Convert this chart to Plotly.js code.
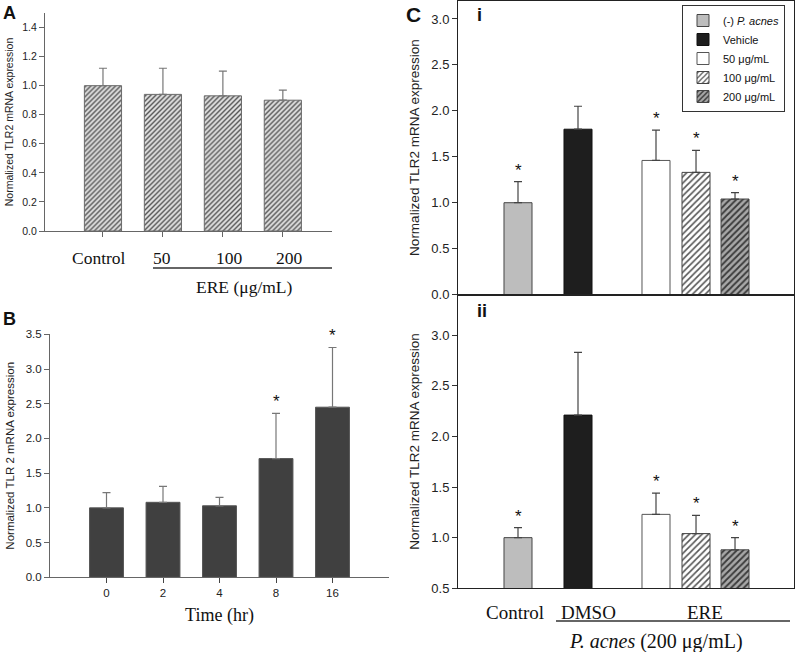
<!DOCTYPE html>
<html>
<head>
<meta charset="utf-8">
<script src="https://cdn.plot.ly/plotly-3.0.1.min.js"></script>
<style>html,body{margin:0;padding:0;background:#fff;}#chart{width:796px;height:652px;}</style>
</head>
<body>
<div id="chart"></div>
<script>
// ---------- DATA ----------
// Panel A: ERE dose (no P. acnes)
const catsA = ["Control", "50", "100", "200"];
const valsA = [1.00, 0.94, 0.93, 0.90];
const errA  = [0.12, 0.18, 0.17, 0.07];

// Panel B: time course
const catsB = ["0", "2", "4", "8", "16"];
const valsB = [1.00, 1.08, 1.03, 1.71, 2.45];
const errB  = [0.22, 0.23, 0.12, 0.65, 0.86];
const sigB  = [false, false, false, true, true];

// Panel C: series (legend names)
const seriesC = ["(-) <i>P. acnes</i>", "Vehicle", "50 μg/mL", "100 μg/mL", "200 μg/mL"];
// C-i
const valsCi = [1.00, 1.80, 1.46, 1.33, 1.04];
const errCi  = [0.23, 0.25, 0.33, 0.24, 0.07];
const sigCi  = [true, false, true, true, true];
// C-ii
const valsCii = [1.00, 2.21, 1.23, 1.04, 0.88];
const errCii  = [0.10, 0.62, 0.21, 0.18, 0.12];
const sigCii  = [true, false, true, true, true];
// C group labels
const groupLabelsC = ["Control", "DMSO", "ERE"];

// ---------- LAYOUT HELPERS ----------
const slotC = [0, 1, 2.3, 2.967, 3.617];          // slot layout of the five C bars
const groupSlotC = [slotC[0], slotC[1], (slotC[2] + slotC[3] + slotC[4]) / 3];
const labelShiftA = [-4, -1, 7, 7];               // px nudges of the serif labels
const labelShiftC = [-3, 10, 9];
const SANS = "Liberation Sans, Arial, sans-serif";
const SERIF = "Liberation Serif, Times New Roman, serif";

const styleC = [
  {color: "#bdbdbd", line: {color: "#444", width: 1}},
  {color: "#1e1e1e", line: {color: "#111", width: 1}},
  {color: "#ffffff", line: {color: "#555", width: 1}},
  {color: "#ffffff", line: {color: "#444", width: 1}, pattern: {shape: "/", fgcolor: "#555", bgcolor: "#ffffff", size: 4.5, solidity: 0.35}},
  {color: "#9a9a9a", line: {color: "#444", width: 1}, pattern: {shape: "/", fgcolor: "#3a3a3a", bgcolor: "#a8a8a8", size: 4.5, solidity: 0.4}}
];

const traces = [];

// Panel A
traces.push({
  type: "bar", x: catsA, y: valsA, xaxis: "x", yaxis: "y", width: 0.62,
  marker: {color: "#d8d8d8", line: {color: "#6a6a6a", width: 1},
           pattern: {shape: "/", fgcolor: "#555", bgcolor: "#e0e0e0", size: 3.5, solidity: 0.4}},
  error_y: {type: "data", symmetric: false, array: errA, arrayminus: errA.map(() => 0), color: "#777", thickness: 1.2, width: 4},
  showlegend: false, hoverinfo: "skip"
});

// Panel B
traces.push({
  type: "bar", x: catsB, y: valsB, xaxis: "x2", yaxis: "y2", width: 0.6,
  marker: {color: "#404040", line: {color: "#555", width: 1}},
  error_y: {type: "data", symmetric: false, array: errB, arrayminus: errB.map(() => 0), color: "#777", thickness: 1.2, width: 4},
  showlegend: false, hoverinfo: "skip"
});

// Panel C-i and C-ii
seriesC.forEach((name, i) => {
  traces.push({
    type: "bar", name: name, x: [slotC[i]], y: [valsCi[i]], xaxis: "x3", yaxis: "y3", width: 0.467,
    marker: styleC[i],
    error_y: {type: "data", symmetric: false, array: [errCi[i]], arrayminus: [0], color: "#444", thickness: 1.2, width: 4},
    showlegend: true, hoverinfo: "skip"
  });
});
seriesC.forEach((name, i) => {
  traces.push({
    type: "bar", name: name, x: [slotC[i]], y: [valsCii[i]], xaxis: "x4", yaxis: "y4", width: 0.467,
    marker: styleC[i],
    error_y: {type: "data", symmetric: false, array: [errCii[i]], arrayminus: [0], color: "#444", thickness: 1.2, width: 4},
    showlegend: false, hoverinfo: "skip"
  });
});

// ---------- ANNOTATIONS ----------
const ann = [];
function star(xref, yref, x, y) {
  ann.push({xref: xref, yref: yref, x: x, y: y, text: "*", showarrow: false, yanchor: "bottom", yshift: 0,
            font: {family: SANS, size: 17, color: "#111"}});
}
catsB.forEach((c, i) => { if (sigB[i]) star("x2", "y2", i, valsB[i] + errB[i]); });
slotC.forEach((p, i) => { if (sigCi[i]) star("x3", "y3", p, valsCi[i] + errCi[i]); });
slotC.forEach((p, i) => { if (sigCii[i]) star("x4", "y4", p, valsCii[i] + errCii[i]); });

// serif category labels
catsA.forEach((c, i) => {
  ann.push({xref: "x", yref: "paper", x: i, y: 1 - 258 / 652, text: c, showarrow: false, xshift: labelShiftA[i],
            xanchor: "center", yanchor: "middle", font: {family: SERIF, size: 17.5, color: "#111"}});
});
groupLabelsC.forEach((c, i) => {
  ann.push({xref: "x4", yref: "paper", x: groupSlotC[i], y: 1 - 612 / 652, text: c, showarrow: false, xshift: labelShiftC[i],
            xanchor: "center", yanchor: "middle", font: {family: SERIF, size: 19, color: "#111"}});
});

function paperText(text, px, py, size, opts) {
  ann.push(Object.assign({xref: "paper", yref: "paper", x: px / 796, y: 1 - py / 652, text: text,
    showarrow: false, xanchor: "center", yanchor: "middle", font: {family: SANS, size: size, color: "#111"}}, opts || {}));
}
paperText("<b>A</b>", 9, 13, 18);
paperText("<b>B</b>", 9, 319, 18);
paperText("<b>C</b>", 413, 15, 21);
paperText("<b>i</b>", 480, 15, 18);
paperText("<b>ii</b>", 482, 311, 18);
paperText("ERE (μg/mL)", 245, 287, 17.5, {font: {family: SERIF, size: 17.5, color: "#111"}});
paperText("<i>P. acnes</i> (200 μg/mL)", 656, 641, 20, {font: {family: SERIF, size: 20, color: "#111"}});

const shapes = [
  {type: "line", xref: "paper", yref: "paper", x0: 153 / 796, x1: 332 / 796, y0: 1 - 268 / 652, y1: 1 - 268 / 652, line: {color: "#333", width: 1.5}},
  {type: "line", xref: "paper", yref: "paper", x0: 556 / 796, x1: 790 / 796, y0: 1 - 621 / 652, y1: 1 - 621 / 652, line: {color: "#333", width: 1.5}}
];

const tickFontA = {family: SANS, size: 10.5, color: "#222"};
const tickFontB = {family: SANS, size: 11.5, color: "#222"};
const tickFontC = {family: SANS, size: 13, color: "#222"};

const yDomCsplit = 0.5482;

const layout = {
  width: 796, height: 652,
  margin: {l: 0, r: 0, t: 0, b: 0},
  paper_bgcolor: "#fff", plot_bgcolor: "rgba(0,0,0,0)",
  barmode: "overlay",
  font: {family: SANS, color: "#222"},
  // Panel A
  xaxis: {domain: [45 / 796, 332 / 796], anchor: "y", type: "category", range: [-0.967, 3.82],
          showline: true, linecolor: "#666", linewidth: 1, ticks: "outside", ticklen: 5, tickcolor: "#666",
          showticklabels: false, showgrid: false, zeroline: false},
  yaxis: {domain: [1 - 231 / 652, 1 - 13 / 652], anchor: "x", range: [0, 1.5], tickvals: [0, 0.2, 0.4, 0.6, 0.8, 1.0, 1.2, 1.4],
          tickformat: ".1f",
          showline: true, linecolor: "#666", linewidth: 1, ticks: "outside", ticklen: 5, tickcolor: "#666",
          tickfont: tickFontA, showgrid: false, zeroline: false,
          title: {text: "Normalized TLR2 mRNA expression", font: {family: SANS, size: 10.5, color: "#222"}, standoff: 6}},
  // Panel B
  xaxis2: {domain: [50 / 796, 389 / 796], anchor: "y2", type: "category", range: [-1, 5],
           showline: true, linecolor: "#666", linewidth: 1, ticks: "outside", ticklen: 5, tickcolor: "#444",
           tickfont: tickFontB, showgrid: false, zeroline: false,
           title: {text: "Time (hr)", font: {family: SERIF, size: 18, color: "#111"}, standoff: 10}},
  yaxis2: {domain: [1 - 577.3 / 652, 1 - 334.3 / 652], anchor: "x2", range: [0, 3.5], dtick: 0.5, tickformat: ".1f",
           showline: true, linecolor: "#666", linewidth: 1, ticks: "outside", ticklen: 5, tickcolor: "#666",
           tickfont: tickFontB, showgrid: false, zeroline: false,
           title: {text: "Normalized TLR 2 mRNA expression", font: {family: SANS, size: 11.5, color: "#222"}, standoff: 8}},
  // Panel C-i
  xaxis3: {domain: [458 / 796, 794 / 796], anchor: "y3", range: [-1, 4.6],
           showline: true, mirror: true, linecolor: "#222", linewidth: 1, ticks: "", showticklabels: false,
           showgrid: false, zeroline: false},
  yaxis3: {domain: [yDomCsplit, 0.9991], anchor: "x3", range: [0, 3.2], tickvals: [0, 0.5, 1, 1.5, 2, 2.5, 3], tickformat: ".1f",
           showline: true, mirror: true, linecolor: "#222", linewidth: 1, ticks: "outside", ticklen: 5, tickcolor: "#333",
           tickfont: tickFontC, showgrid: false, zeroline: false,
           title: {text: "Normalized TLR2 mRNA expression", font: {family: SANS, size: 13.5, color: "#222"}, standoff: 8}},
  // Panel C-ii
  xaxis4: {domain: [458 / 796, 794 / 796], anchor: "y4", range: [-1, 4.6],
           showline: true, mirror: true, linecolor: "#222", linewidth: 1, ticks: "", showticklabels: false,
           showgrid: false, zeroline: false},
  yaxis4: {domain: [1 - 588.3 / 652, yDomCsplit], anchor: "x4", range: [0.5, 3.4], tickvals: [0.5, 1, 1.5, 2, 2.5, 3], tickformat: ".1f",
           showline: true, mirror: true, linecolor: "#222", linewidth: 1, ticks: "outside", ticklen: 5, tickcolor: "#333",
           tickfont: tickFontC, showgrid: false, zeroline: false,
           title: {text: "Normalized TLR2 mRNA expression", font: {family: SANS, size: 13.5, color: "#222"}, standoff: 8}},
  legend: {x: 682 / 796, y: 1 - 5 / 652, xanchor: "left", yanchor: "top", bgcolor: "#fff",
           bordercolor: "#333", borderwidth: 1, font: {family: SANS, size: 11, color: "#111"},
           tracegroupgap: 0, itemwidth: 30},
  annotations: ann,
  shapes: shapes
};

Plotly.newPlot("chart", traces, layout, {staticPlot: true, displayModeBar: false});
</script>
</body>
</html>
